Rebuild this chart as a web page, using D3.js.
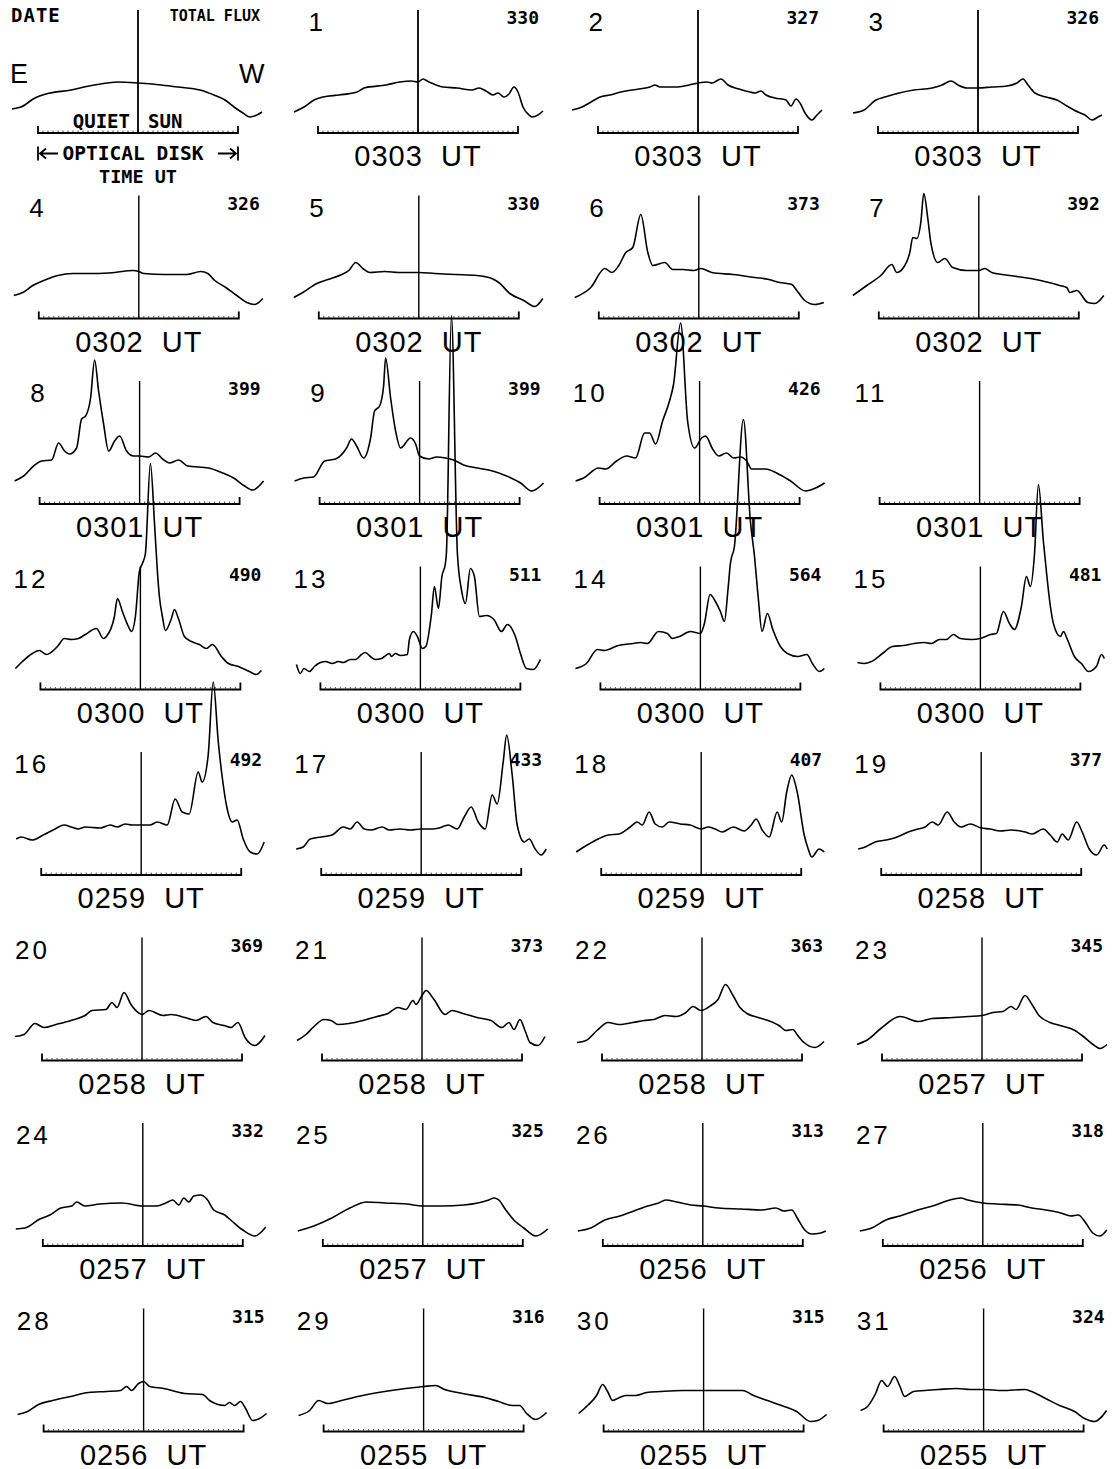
<!DOCTYPE html>
<html>
<head>
<meta charset="utf-8">
<script src="https://cdn.jsdelivr.net/npm/d3@7"></script>
<style>
body{margin:0;background:#fff}
svg{display:block}
</style>
</head>
<body>
<div id="chart"></div>
<script>
// scan profiles: [position in solar radii (E<0, W>0), relative brightness]
const scan00 = [[-1.26,16],[-1.17,18],[-1.03,27],[-0.92,31],[-0.67,35],[-0.49,39],[-0.31,42],[-0.20,43],[0,42],[0.23,40],[0.40,38],[0.62,35],[0.76,30],[0.87,25],[0.96,18],[1.05,12],[1.12,8],[1.19,10],[1.24,13]]
const scan01 = [[-1.24,13],[-1.14,18],[-1.04,25],[-0.95,28],[-0.79,30],[-0.61,33],[-0.54,37],[-0.32,40],[-0.18,43],[-0.07,44],[0,43],[0.05,46],[0.11,43],[0.25,38],[0.39,37],[0.54,35],[0.61,37],[0.68,34],[0.75,30],[0.80,32],[0.86,28],[0.91,31],[0.96,38],[1.00,33],[1.05,18],[1.11,10],[1.14,8],[1.20,10],[1.25,14]]
const scan02 = [[-1.26,15],[-1.16,18],[-1.07,23],[-0.98,28],[-0.88,30],[-0.77,33],[-0.59,36],[-0.48,38],[-0.43,40],[-0.38,38],[-0.23,38],[-0.09,40],[0,42],[0.09,43],[0.14,42],[0.23,46],[0.30,40],[0.41,36],[0.52,33],[0.57,32],[0.63,34],[0.68,30],[0.77,27],[0.88,25],[0.93,19],[0.98,26],[1.02,22],[1.07,12],[1.14,5],[1.19,10],[1.24,15]]
const scan03 = [[-1.25,12],[-1.14,15],[-1.02,25],[-0.93,28],[-0.79,32],[-0.64,35],[-0.46,37],[-0.36,40],[-0.27,44],[-0.20,40],[-0.11,37],[0,37],[0.14,38],[0.29,39],[0.39,42],[0.45,46],[0.50,40],[0.57,32],[0.68,28],[0.79,25],[0.89,19],[1.00,13],[1.07,10],[1.14,5],[1.20,8],[1.24,10]]
const scan04 = [[-1.25,15],[-1.16,18],[-1.06,25],[-0.95,30],[-0.81,35],[-0.66,37],[-0.45,37],[-0.24,38],[-0.06,40],[0,39],[0.05,37],[0.26,36],[0.48,36],[0.62,39],[0.69,37],[0.76,30],[0.87,23],[0.98,15],[1.08,8],[1.16,6],[1.24,12]]
const scan05 = [[-1.25,13],[-1.16,18],[-1.02,27],[-0.91,31],[-0.77,36],[-0.70,40],[-0.63,48],[-0.56,42],[-0.49,38],[-0.34,39],[-0.20,38],[0,38],[0.16,37],[0.37,36],[0.58,35],[0.73,32],[0.80,28],[0.91,17],[1.05,10],[1.16,4],[1.24,12]]
const scan06 = [[-1.24,13],[-1.08,23],[-0.94,42],[-0.87,38],[-0.80,45],[-0.73,58],[-0.66,63],[-0.58,96],[-0.51,58],[-0.46,45],[-0.34,48],[-0.26,41],[-0.16,41],[-0.05,40],[0.02,42],[0.13,38],[0.34,36],[0.56,33],[0.70,31],[0.81,28],[0.88,27],[0.93,26],[0.98,20],[1.06,10],[1.16,6],[1.25,8]]
const scan07 = [[-1.26,15],[-1.12,25],[-0.98,35],[-0.87,46],[-0.82,38],[-0.76,42],[-0.69,58],[-0.66,73],[-0.62,72],[-0.58,88],[-0.55,117],[-0.51,92],[-0.48,68],[-0.41,48],[-0.34,52],[-0.26,43],[-0.12,40],[0,40],[0.06,42],[0.13,38],[0.31,35],[0.52,32],[0.70,28],[0.81,25],[0.88,23],[0.91,18],[0.98,20],[1.09,8],[1.16,7],[1.25,15]]
const scan08 = [[-1.25,15],[-1.16,20],[-1.06,30],[-0.98,35],[-0.88,36],[-0.81,53],[-0.75,45],[-0.70,42],[-0.63,48],[-0.58,77],[-0.54,80],[-0.49,98],[-0.45,136],[-0.41,105],[-0.36,72],[-0.31,45],[-0.25,55],[-0.20,60],[-0.13,45],[-0.06,40],[0,40],[0.09,39],[0.16,43],[0.23,37],[0.30,33],[0.39,36],[0.48,30],[0.69,28],[0.83,23],[0.94,18],[1.05,10],[1.13,6],[1.24,15]]
const scan09 = [[-1.25,15],[-1.16,18],[-1.06,19],[-0.95,35],[-0.84,37],[-0.73,48],[-0.68,57],[-0.63,50],[-0.56,38],[-0.49,58],[-0.45,85],[-0.40,90],[-0.36,110],[-0.34,138],[-0.29,98],[-0.24,65],[-0.19,48],[-0.09,58],[-0.04,52],[0,40],[0.09,37],[0.17,39],[0.26,38],[0.34,36],[0.44,31],[0.58,28],[0.73,25],[0.87,20],[1.01,13],[1.12,5],[1.24,13]]
const scan10 = [[-1.24,15],[-1.16,18],[-1.01,28],[-0.94,27],[-0.83,35],[-0.73,40],[-0.64,38],[-0.55,63],[-0.50,63],[-0.44,52],[-0.37,75],[-0.31,92],[-0.26,112],[-0.19,173],[-0.12,75],[-0.05,48],[0.02,58],[0.06,60],[0.13,47],[0.19,40],[0.27,43],[0.34,38],[0.41,39],[0.47,35],[0.52,27],[0.66,27],[0.77,23],[0.91,15],[1.06,5],[1.16,8],[1.25,13]]
const scan11 = []
const scan12 = [[-1.25,13],[-1.19,19],[-1.08,28],[-1.01,31],[-0.94,27],[-0.83,35],[-0.76,43],[-0.69,42],[-0.62,43],[-0.55,47],[-0.44,53],[-0.37,43],[-0.34,45],[-0.26,65],[-0.23,83],[-0.18,70],[-0.12,55],[-0.09,50],[-0.05,65],[-0.01,110],[0.02,118],[0.05,128],[0.10,218],[0.14,160],[0.17,110],[0.19,85],[0.22,65],[0.25,51],[0.31,63],[0.34,72],[0.38,63],[0.44,45],[0.51,40],[0.59,37],[0.66,33],[0.72,37],[0.81,25],[0.88,18],[0.98,15],[1.09,10],[1.16,7],[1.21,11]]
const scan13 = [[-1.24,17],[-1.20,8],[-1.165,13],[-1.11,10],[-1.06,15],[-1.02,18],[-0.95,20],[-0.88,18],[-0.82,20],[-0.77,19],[-0.70,22],[-0.645,22],[-0.59,27],[-0.55,29],[-0.50,25],[-0.45,22],[-0.39,23],[-0.36,25],[-0.31,28],[-0.29,25],[-0.25,28],[-0.20,26],[-0.13,27],[-0.11,42],[-0.07,50],[-0.03,45],[0.02,33],[0.054,35],[0.11,67],[0.14,95],[0.18,73],[0.215,105],[0.25,118],[0.26,128],[0.31,366],[0.37,128],[0.41,92],[0.45,78],[0.50,113],[0.54,105],[0.59,65],[0.66,66],[0.735,62],[0.81,50],[0.87,57],[0.95,45],[1.00,28],[1.06,13],[1.13,12],[1.20,22]]
const scan14 = [[-1.25,13],[-1.14,18],[-1.03,32],[-0.96,31],[-0.82,36],[-0.67,38],[-0.60,39],[-0.53,38],[-0.42,50],[-0.33,48],[-0.28,43],[-0.21,45],[-0.10,50],[0,48],[0.04,58],[0.097,87],[0.15,80],[0.20,70],[0.24,60],[0.276,92],[0.30,118],[0.34,135],[0.43,262],[0.50,160],[0.54,126],[0.58,82],[0.616,50],[0.67,68],[0.724,52],[0.80,35],[0.87,28],[0.975,25],[1.065,27],[1.12,18],[1.19,10],[1.24,13]]
const scan15 = [[-1.23,19],[-1.16,18],[-1.09,20],[-0.98,28],[-0.88,35],[-0.77,36],[-0.66,38],[-0.56,39],[-0.49,38],[-0.41,42],[-0.34,42],[-0.27,47],[-0.20,43],[-0.09,42],[0,43],[0.10,47],[0.16,48],[0.23,70],[0.29,58],[0.34,52],[0.41,75],[0.46,105],[0.50,95],[0.54,126],[0.58,197],[0.63,140],[0.66,110],[0.70,75],[0.73,58],[0.80,45],[0.83,50],[0.87,42],[0.94,25],[1.01,18],[1.08,10],[1.16,15],[1.21,27],[1.24,23]]
const scan16 = [[-1.25,28],[-1.20,30],[-1.09,27],[-0.98,32],[-0.88,37],[-0.77,42],[-0.70,40],[-0.63,38],[-0.56,40],[-0.41,39],[-0.31,42],[-0.24,40],[-0.16,43],[-0.09,42],[0,42],[0.09,42],[0.16,45],[0.26,42],[0.34,68],[0.41,55],[0.48,53],[0.57,95],[0.61,85],[0.67,112],[0.72,185],[0.77,126],[0.81,90],[0.86,58],[0.91,45],[0.96,47],[1.02,28],[1.09,15],[1.16,13],[1.23,25]]
const scan17 = [[-1.25,18],[-1.18,20],[-1.11,28],[-1.00,30],[-0.89,32],[-0.78,40],[-0.71,38],[-0.64,45],[-0.57,38],[-0.50,37],[-0.39,40],[-0.32,37],[-0.21,38],[-0.11,37],[0,38],[0.11,38],[0.18,39],[0.27,42],[0.36,38],[0.43,50],[0.50,60],[0.57,45],[0.64,38],[0.71,72],[0.76,63],[0.82,105],[0.855,132],[0.91,92],[0.96,42],[1.03,25],[1.08,28],[1.14,18],[1.20,12],[1.25,18]]
const scan18 = [[-1.25,15],[-1.14,22],[-1.03,28],[-0.93,32],[-0.82,33],[-0.71,40],[-0.64,45],[-0.59,42],[-0.52,55],[-0.46,43],[-0.39,40],[-0.32,45],[-0.21,43],[-0.11,42],[0,38],[0.07,40],[0.14,38],[0.21,35],[0.32,40],[0.43,36],[0.50,42],[0.55,48],[0.61,37],[0.68,30],[0.76,55],[0.805,45],[0.855,75],[0.905,92],[0.96,75],[1.03,32],[1.07,18],[1.105,10],[1.18,18],[1.23,15]]
const scan19 = [[-1.23,18],[-1.16,20],[-1.06,25],[-0.95,27],[-0.84,30],[-0.73,35],[-0.63,38],[-0.56,40],[-0.49,45],[-0.43,42],[-0.34,55],[-0.27,45],[-0.20,40],[-0.11,43],[0,39],[0.09,38],[0.19,36],[0.30,37],[0.44,35],[0.51,33],[0.62,38],[0.69,32],[0.76,25],[0.81,33],[0.87,27],[0.955,45],[1.01,35],[1.08,18],[1.155,12],[1.23,22],[1.26,18]]
const scan20 = [[-1.27,16],[-1.18,18],[-1.07,29],[-0.98,25],[-0.86,28],[-0.71,32],[-0.57,37],[-0.50,42],[-0.36,43],[-0.30,50],[-0.25,45],[-0.18,60],[-0.11,48],[-0.04,40],[0,38],[0.07,42],[0.21,37],[0.29,38],[0.43,35],[0.54,32],[0.64,36],[0.71,30],[0.82,27],[0.89,25],[0.96,30],[1.03,15],[1.13,7],[1.23,17]]
const scan21 = [[-1.25,12],[-1.16,18],[-1.09,25],[-0.98,33],[-0.91,32],[-0.84,28],[-0.73,29],[-0.59,32],[-0.45,36],[-0.34,39],[-0.24,45],[-0.16,43],[-0.09,52],[-0.06,48],[0,57],[0.04,62],[0.12,53],[0.23,38],[0.30,42],[0.41,39],[0.55,35],[0.69,32],[0.80,25],[0.87,30],[0.92,23],[0.98,33],[1.03,22],[1.08,10],[1.16,7],[1.23,16]]
const scan22 = [[-1.25,10],[-1.16,12],[-1.05,22],[-0.94,30],[-0.83,28],[-0.69,30],[-0.58,32],[-0.48,33],[-0.37,37],[-0.26,36],[-0.16,40],[-0.09,46],[-0.01,42],[0.09,47],[0.16,53],[0.235,68],[0.31,57],[0.38,45],[0.45,39],[0.56,35],[0.66,32],[0.77,27],[0.84,22],[0.91,23],[0.95,18],[1.02,10],[1.13,5],[1.22,11]]
const scan23 = [[-1.25,8],[-1.14,13],[-1.00,25],[-0.82,36],[-0.64,31],[-0.50,34],[-0.29,35],[-0.14,36],[0,37],[0.11,40],[0.21,41],[0.29,46],[0.34,43],[0.43,57],[0.50,48],[0.57,37],[0.68,30],[0.78,27],[0.93,22],[1.00,17],[1.11,8],[1.18,4],[1.25,8]]
const scan24 = [[-1.27,9],[-1.18,10],[-1.03,19],[-0.93,23],[-0.82,30],[-0.71,32],[-0.66,36],[-0.58,32],[-0.43,34],[-0.21,35],[0,32],[0.14,32],[0.23,35],[0.30,38],[0.36,33],[0.41,40],[0.46,36],[0.51,42],[0.58,43],[0.64,39],[0.71,28],[0.82,23],[0.89,17],[1.00,8],[1.12,2],[1.23,11]]
const scan25 = [[-1.25,7],[-1.09,12],[-0.91,20],[-0.73,30],[-0.56,36],[-0.38,35],[-0.16,34],[0,32],[0.19,32],[0.41,33],[0.55,35],[0.66,38],[0.71,40],[0.76,38],[0.83,28],[0.91,18],[1.01,10],[1.13,2],[1.25,9]]
const scan26 = [[-1.25,7],[-1.12,10],[-0.98,18],[-0.83,22],[-0.69,27],[-0.55,32],[-0.44,35],[-0.37,38],[-0.26,36],[-0.12,33],[0,32],[0.16,30],[0.38,29],[0.59,28],[0.73,30],[0.81,27],[0.89,28],[0.95,19],[1.02,8],[1.09,4],[1.18,5],[1.23,7]]
const scan27 = [[-1.23,7],[-1.11,10],[-0.97,18],[-0.83,22],[-0.65,28],[-0.47,33],[-0.33,38],[-0.22,40],[-0.15,38],[0,35],[0.14,34],[0.35,33],[0.49,30],[0.63,28],[0.78,25],[0.88,22],[0.955,23],[1.03,15],[1.10,5],[1.17,2],[1.24,8]]
const scan28 = [[-1.26,9],[-1.16,12],[-1.05,19],[-0.91,23],[-0.73,27],[-0.55,31],[-0.37,32],[-0.23,33],[-0.17,37],[-0.12,33],[-0.05,40],[0,42],[0.06,37],[0.20,35],[0.41,30],[0.59,29],[0.66,23],[0.81,18],[0.86,21],[0.91,18],[0.97,22],[1.02,15],[1.09,3],[1.16,5],[1.23,10]]
const scan29 = [[-1.25,8],[-1.14,13],[-1.05,23],[-0.96,20],[-0.82,23],[-0.61,28],[-0.39,32],[-0.18,35],[0,37],[0.12,38],[0.21,34],[0.39,30],[0.61,26],[0.75,22],[0.89,18],[0.96,18],[1.03,10],[1.12,4],[1.23,11]]
const scan30 = [[-1.25,10],[-1.16,18],[-1.07,28],[-1.01,39],[-0.96,32],[-0.91,23],[-0.86,25],[-0.78,28],[-0.68,28],[-0.57,31],[-0.43,32],[-0.21,33],[0,33],[0.21,33],[0.39,33],[0.50,28],[0.64,23],[0.78,18],[0.93,12],[1.07,2],[1.14,3],[1.23,9]]
const scan31 = [[-1.23,13],[-1.16,17],[-1.08,30],[-1.02,43],[-0.96,37],[-0.89,47],[-0.84,38],[-0.79,27],[-0.70,32],[-0.59,33],[-0.45,34],[-0.27,35],[-0.13,34],[0,34],[0.19,33],[0.41,34],[0.48,32],[0.62,25],[0.76,18],[0.91,12],[1.01,5],[1.11,2],[1.23,13]]

const scans = [scan00,scan01,scan02,scan03,scan04,scan05,scan06,scan07,
               scan08,scan09,scan10,scan11,scan12,scan13,scan14,scan15,
               scan16,scan17,scan18,scan19,scan20,scan21,scan22,scan23,
               scan24,scan25,scan26,scan27,scan28,scan29,scan30,scan31]
const scanTimes = ['','0303','0303','0303','0302','0302','0302','0302',
                   '0301','0301','0301','0301','0300','0300','0300','0300',
                   '0259','0259','0259','0258','0258','0258','0258','0257',
                   '0257','0257','0256','0256','0256','0255','0255','0255']
const totalFlux = ['','330','327','326','326','330','373','392',
                   '399','399','426','','490','511','564','481',
                   '492','433','407','377','369','373','363','345',
                   '332','325','313','318','315','316','315','324']

var width = 1112
var height = 1469
var colStep = 280
var rowStep = 185.5
var x0 = 138
var skew = 0.8
var plotFont = '"Liberation Sans", Arial, sans-serif'
var dotFont = '"DejaVu Sans Mono", monospace'

var svg = d3.select('#chart').append('svg')
            .attr('width', width)
            .attr('height', height)
var g = svg.append('g')
           .attr('fill','none')
           .attr('stroke','#000')

function drawPanel(i){
	var c = i%4
	var r = Math.floor(i/4)
	var cx = x0 + c*colStep + r*skew
	var top = r*rowStep
	var x = d3.scaleLinear().domain([-1,1]).range([cx-100,cx+100])
	var y = d3.scaleLinear().domain([0,100]).range([top+125,top+25])
	var p = g.append('g').attr('class','panel p'+i)

	// central meridian
	p.append('line')
	 .attr('x1',cx).attr('x2',cx)
	 .attr('y1',top+10).attr('y2',top+133)
	 .attr('stroke-width',r===0?1.8:1.4)

	// optical disk bracket
	p.append('path')
	 .attr('d','M'+x(-1)+','+(top+126)+'V'+(top+133)+'H'+x(1)+'V'+(top+126))
	 .attr('stroke-width',1.8)
	p.append('g').selectAll('line')
	 .data(d3.range(-0.95,0.96,0.05))
	 .join('line')
	 .attr('x1',d=>x(d)).attr('x2',d=>x(d))
	 .attr('y1',top+132).attr('y2',top+130.5)
	 .attr('stroke-width',0.7)

	// scan profile
	if(scans[i].length){
		p.append('path').datum(scans[i])
		 .attr('d',d3.line().x(d=>x(d[0])).y(d=>y(d[1])).curve(d3.curveMonotoneX))
		 .attr('stroke-width',1.6)
		 .attr('stroke-linejoin','round')
	}

	if(i===0){
		drawKey(cx,top)
		return
	}
	var t = svg.append('g').attr('fill','#000')
	t.append('text')
	 .attr('x',cx-92).attr('y',top+31)
	 .attr('text-anchor','end')
	 .style('font-family',plotFont).style('font-size','26px')
	 .style('letter-spacing','3px')
	 .text(i)
	if(totalFlux[i]!==''){
		t.append('text')
		 .attr('x',cx+121).attr('y',top+24)
		 .attr('text-anchor','end')
		 .style('font-family',dotFont).style('font-size','18px').style('font-weight','bold')
		 .text(totalFlux[i])
	}
	t.append('text')
	 .attr('x',cx).attr('y',top+166)
	 .attr('text-anchor','middle')
	 .style('font-family',plotFont).style('font-size','29px')
	 .style('letter-spacing','1px').style('white-space','pre')
	 .text(scanTimes[i]+'  UT')
}

function drawKey(cx,top){
	var t = svg.append('g').attr('fill','#000')
	       .style('font-family',dotFont).style('font-weight','bold')
	t.append('text').attr('x',11).attr('y',top+22)
	 .style('font-size','19px').style('letter-spacing','1px').text('DATE')
	t.append('text').attr('x',cx+122).attr('y',top+21).attr('text-anchor','end')
	 .style('font-size','15px').text('TOTAL FLUX')
	t.append('text').attr('x',cx-8).attr('y',top+128).attr('text-anchor','end')
	 .style('font-size','19px').text('QUIET')
	t.append('text').attr('x',cx+10).attr('y',top+128)
	 .style('font-size','19px').text('SUN')
	t.append('text').attr('x',cx-5).attr('y',top+160).attr('text-anchor','middle')
	 .style('font-size','19.5px').text('OPTICAL DISK')
	t.append('text').attr('x',cx).attr('y',top+183).attr('text-anchor','middle')
	 .style('font-size','18.5px').text('TIME UT')
	var e = svg.append('g').attr('fill','#000')
	       .style('font-family',plotFont).style('font-size','27px')
	e.append('text').attr('x',10).attr('y',top+83).text('E')
	e.append('text').attr('x',cx+101).attr('y',top+83).text('W')

	// disk-width arrows
	var a = svg.append('g').attr('fill','none').attr('stroke','#000').attr('stroke-width',1.8)
	var ay = top+153.5
	var l = cx-100, rr = cx+100
	a.append('path').attr('d','M'+l+','+(ay-7)+'V'+(ay+7)+'M'+(l+2)+','+ay+'H'+(l+20)
	                       +'M'+(l+8)+','+(ay-5)+'L'+(l+2)+','+ay+'L'+(l+8)+','+(ay+5))
	a.append('path').attr('d','M'+rr+','+(ay-7)+'V'+(ay+7)+'M'+(rr-2)+','+ay+'H'+(rr-20)
	                       +'M'+(rr-8)+','+(ay-5)+'L'+(rr-2)+','+ay+'L'+(rr-8)+','+(ay+5))
}

for(var i=0;i<32;i++) drawPanel(i)
</script>
</body>
</html>
